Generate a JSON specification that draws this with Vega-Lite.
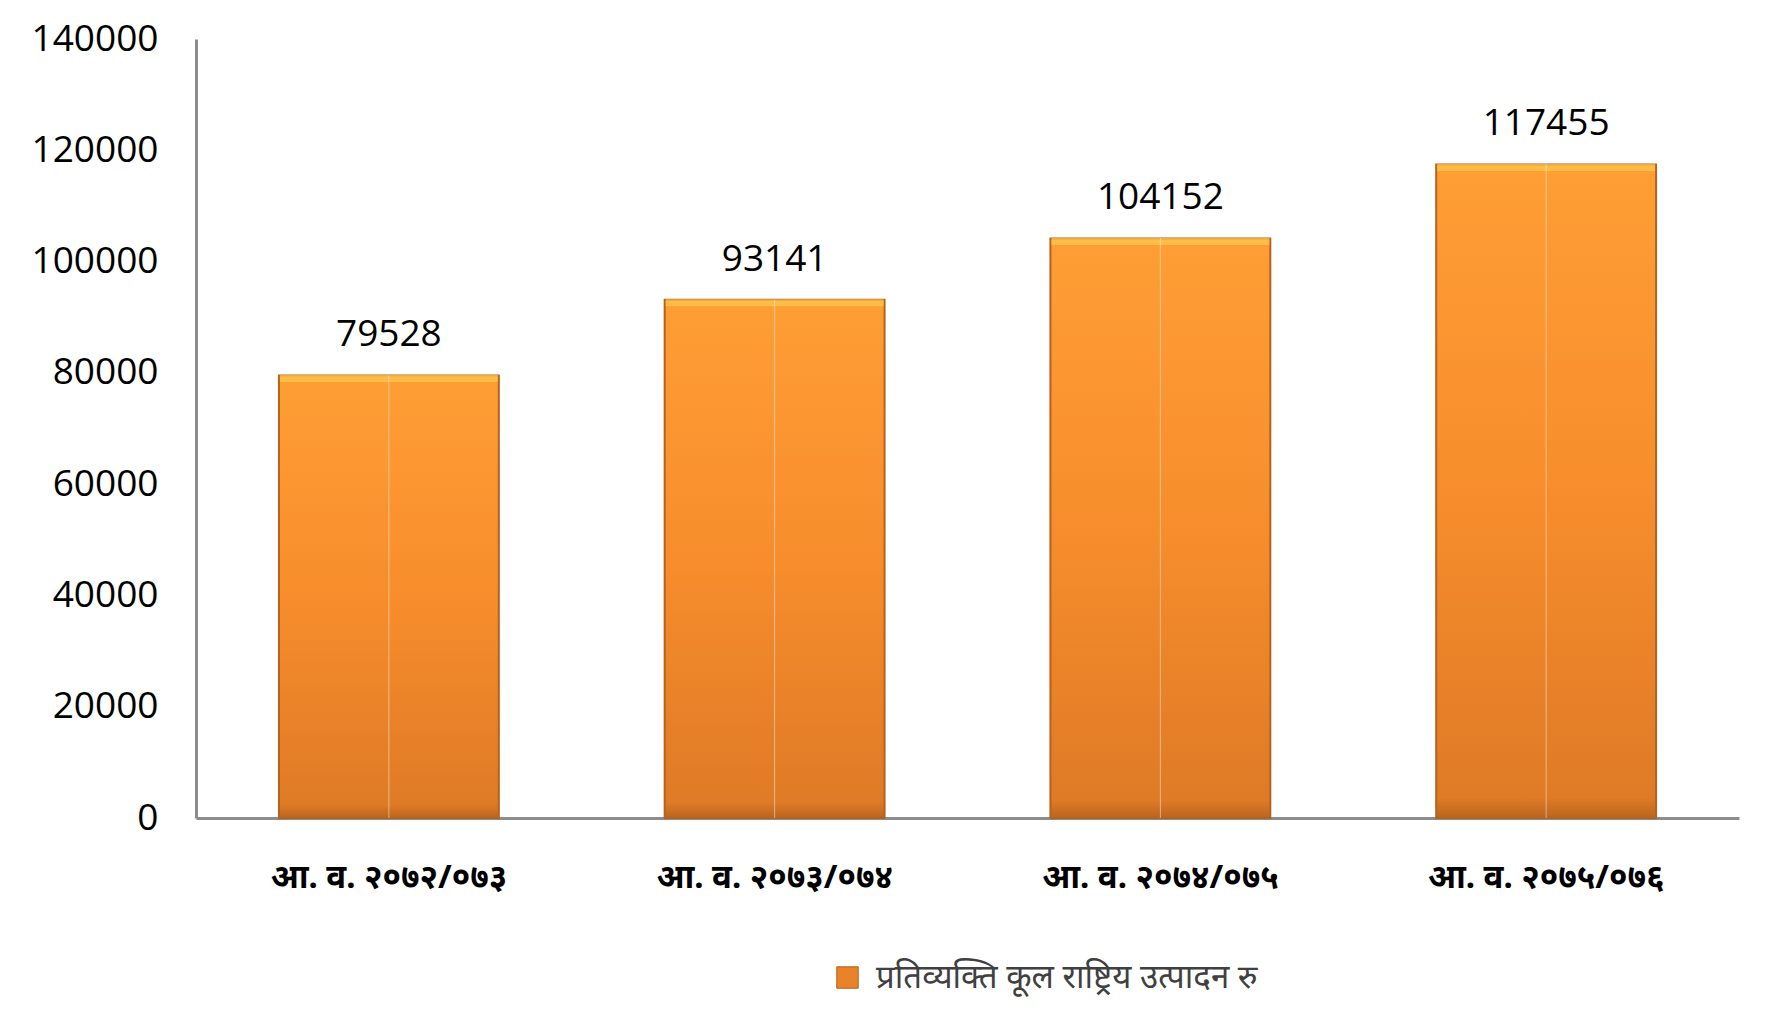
{
  "$schema": "https://vega.github.io/schema/vega-lite/v6.json",
  "width": 1543,
  "height": 779,
  "autosize": {"type": "none"},
  "padding": {"left": 196, "top": 39, "right": 36, "bottom": 202},
  "background": "white",
  "data": {
    "values": [
      {"year": "आ. व. २०७२/०७३", "gni": 79528, "series": "प्रतिव्यक्ति कूल राष्ट्रिय उत्पादन रु"},
      {"year": "आ. व. २०७३/०७४", "gni": 93141, "series": "प्रतिव्यक्ति कूल राष्ट्रिय उत्पादन रु"},
      {"year": "आ. व. २०७४/०७५", "gni": 104152, "series": "प्रतिव्यक्ति कूल राष्ट्रिय उत्पादन रु"},
      {"year": "आ. व. २०७५/०७६", "gni": 117455, "series": "प्रतिव्यक्ति कूल राष्ट्रिय उत्पादन रु"}
    ]
  },
  "encoding": {
    "x": {
      "field": "year",
      "type": "nominal",
      "sort": null,
      "scale": {"paddingInner": 0.43, "paddingOuter": 0.215},
      "axis": {
        "title": null,
        "labelAngle": 0,
        "ticks": false,
        "labelPadding": 43,
        "labelLimit": 1000,
        "labelFont": "Noto Sans",
        "labelFontSize": 33,
        "labelFontWeight": "bold",
        "labelColor": "black",
        "domainColor": "#8c8c8c",
        "domainWidth": 3
      }
    },
    "y": {
      "field": "gni",
      "type": "quantitative",
      "scale": {"domain": [0, 140000]},
      "axis": {
        "title": null,
        "values": [0, 20000, 40000, 60000, 80000, 100000, 120000, 140000],
        "format": "d",
        "grid": false,
        "ticks": false,
        "labelPadding": 38,
        "labelFont": "Open Sans",
        "labelFontSize": 37,
        "labelColor": "black",
        "domainColor": "#8c8c8c",
        "domainWidth": 3
      }
    }
  },
  "layer": [
    {
      "mark": {
        "type": "bar",
        "stroke": "#b5621c",
        "strokeWidth": 2,
        "color": {
          "gradient": "linear",
          "x1": 0, "y1": 0, "x2": 0, "y2": 1,
          "stops": [
            {"offset": 0, "color": "#ff9e35"},
            {"offset": 0.5, "color": "#f78d2c"},
            {"offset": 0.97, "color": "#df7a26"},
            {"offset": 1, "color": "#b9651f"}
          ]
        }
      }
    },
    {
      "mark": {"type": "tick", "size": 218, "thickness": 7, "yOffset": 3, "color": "#ffc94f"}
    },
    {
      "mark": {"type": "rule", "color": "white", "strokeWidth": 1, "opacity": 0.45},
      "encoding": {"y2": {"datum": 0}}
    },
    {
      "mark": {"type": "square", "opacity": 0, "size": 0},
      "encoding": {
        "color": {
          "field": "series",
          "type": "nominal",
          "scale": {"range": ["#e8832a"]},
          "legend": {
            "title": null,
            "orient": "none",
            "legendX": 635,
            "legendY": 922,
            "symbolType": "square",
            "symbolSize": 460,
            "symbolOpacity": 1,
            "symbolStrokeColor": "#b5621c",
            "symbolStrokeWidth": 1,
            "labelFont": "Noto Sans",
            "labelFontSize": 33,
            "labelColor": "#404040",
            "labelOffset": 12,
            "labelLimit": 1000
          }
        }
      }
    },
    {
      "mark": {"type": "text", "baseline": "bottom", "dy": -21, "font": "Open Sans", "fontSize": 37, "color": "black"},
      "encoding": {"text": {"field": "gni", "type": "quantitative", "format": "d"}}
    }
  ],
  "config": {"view": {"stroke": null}}
}
